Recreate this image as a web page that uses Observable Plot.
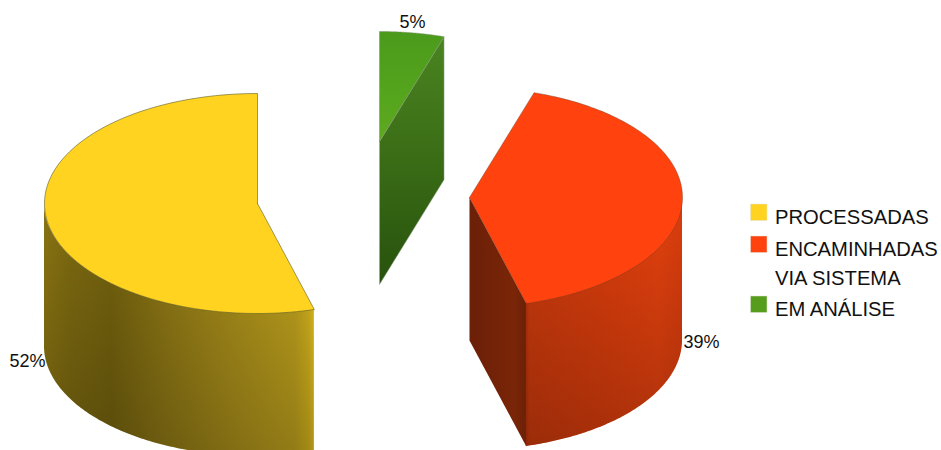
<!doctype html>
<html><head><meta charset="utf-8">
<style>html,body{margin:0;padding:0;background:#fff}svg{display:block}</style>
<script src="https://cdn.jsdelivr.net/npm/d3@7"></script>
<script src="https://cdn.jsdelivr.net/npm/@observablehq/plot@0.6"></script>
</head><body><div id="c"></div>
<script>
const categories = ["PROCESSADAS", "ENCAMINHADAS\nVIA SISTEMA", "EM ANÁLISE"];
const percents = [52, 39, 5];
// share of the full turn each slice really covers in the picture
const shares = [54.3, 40.8, 4.9];
const colors = ["#ffd320", "#ff420e", "#579d1c"];

const W = 941, H = 450;
const RX = 213, RY = 110, DEPTH = 143;
const centres = [[257, 203], [469, 197], [379, 141]];
const labelPos = [[9, 361], [683, 342], [399, 22]];
const swatchY = [204, 236, 296];
const textY = [203, 235, 295];

// slice angles, clockwise from 12 o'clock: green, then red, then yellow
const total = d3.sum(shares);
const a2 = shares[2] / total * 360;
const a1 = a2 + shares[1] / total * 360;
const spans = [[a1, 360], [a2, a1], [0, a2]];
const rad = d => d * Math.PI / 180;
const pt = (c, a) => ({x: c[0] + RX * Math.sin(rad(a)), y: c[1] - RY * Math.cos(rad(a))});
const arc = (c, s, e) => d3.range(0, 121).map(i => pt(c, s + (e - s) * i / 120));
const face = i => [{x: centres[i][0], y: centres[i][1]}, ...arc(centres[i], spans[i][0], spans[i][1]), {x: centres[i][0], y: centres[i][1]}];
const wall = (c, s, e) => arc(c, s, e).map(p => ({x: p.x, y1: p.y, y2: p.y + DEPTH})).sort((p, q) => p.x - q.x);
const cut = (c, a) => { const p = pt(c, a), q = {x: c[0], y: c[1]};
  return [q, p, {x: p.x, y: p.y + DEPTH}, {x: q.x, y: q.y + DEPTH}, q]; };

function grad(defs, id, dir, stops) {
  const g = defs.append("linearGradient").attr("id", id)
    .attr("x1", 0).attr("y1", 0).attr("x2", dir === "h" ? 1 : 0).attr("y2", dir === "h" ? 0 : 1);
  for (const [o, c, a] of stops) g.append("stop").attr("offset", o).attr("stop-color", c).attr("stop-opacity", a ?? 1);
}
const defsMark = () => {
  const defs = d3.create("svg:defs");
  grad(defs, "yw", "h", [[0, "#8a7412"], [.1, "#7d6a10"], [.25, "#75630e"], [.45, "#8f7815"], [.7, "#aa8f1a"], [.93, "#c0a21d"], [.98, "#d4b31c"], [1, "#e6c41e"]]);
  grad(defs, "rw", "h", [[0, "#b3300a"], [.02, "#cc3a0c"], [.5, "#da3d0c"], [.85, "#e4410e"], [1, "#da3d0d"]]);
  grad(defs, "shade", "v", [[0, "#000", 0], [1, "#000", .24]]);
  grad(defs, "gc", "v", [[0, "#4a8420"], [.5, "#3a6c16"], [1, "#27520d"]]);
  grad(defs, "gt", "v", [[0, "#4b9a1b"], [.6, "#55a51d"], [1, "#5fa920"]]);
  grad(defs, "rc", "h", [[0, "#6b2007"], [.8, "#7a2508"], [1, "#6a2006"]]);
  return defs.node();
};

const edge = {stroke: "#5c5c2a", strokeWidth: 0.6};
const poly = (d, fill, o = edge) => Plot.line(d, {x: "x", y: "y", fill, curve: "linear", ...o});
const sideWall = (d, fill) => [
  Plot.areaY(d, {x: "x", y1: "y1", y2: "y2", fill, curve: "linear"}),
  Plot.areaY(d, {x: "x", y1: "y1", y2: "y2", fill: "url(#shade)", curve: "linear"})
];

const legendRows = categories.map((name, i) => ({name, color: colors[i], y: swatchY[i], ty: textY[i]}));

const chart = Plot.plot({
  width: W, height: H, margin: 0,
  x: {domain: [0, W], range: [0, W], axis: null},
  y: {domain: [0, H], range: [0, H], axis: null},
  marks: [
    defsMark,
    // green slice
    poly(cut(centres[2], a2), "url(#gc)", {stroke: "#9aa890", strokeWidth: 0.5}),
    poly(face(2), "url(#gt)", {stroke: "#7f8f70", strokeWidth: 0.5}),
    // red slice
    poly(cut(centres[1], a1), "url(#rc)", {stroke: "none"}),
    ...sideWall(wall(centres[1], 90, a1), "url(#rw)"),
    poly(face(1), colors[1], {stroke: "#6a3a20", strokeWidth: 0.4}),
    // yellow slice
    ...sideWall(wall(centres[0], a1, 270), "url(#yw)"),
    poly(face(0), colors[0]),
    // percent labels
    Plot.text(percents, {
      x: (d, i) => labelPos[i][0], y: (d, i) => labelPos[i][1],
      text: d => d + "%", textAnchor: "start",
      fontSize: 18, fontFamily: "Liberation Sans", fill: "#111"
    }),
    // legend
    Plot.rect(legendRows, {
      x1: 750.5, x2: 767, y1: "y", y2: d => d.y + 16.5,
      fill: "color", stroke: "#e4e4d8", strokeWidth: 0.5
    }),
    Plot.text(legendRows, {
      x: 774.5, y: "ty", text: "name", textAnchor: "start", lineAnchor: "top",
      lineHeight: 1.42, fontSize: 20.2, fontFamily: "Liberation Sans", fill: "#111"
    })
  ]
});
document.getElementById("c").append(chart);
</script></body></html>
